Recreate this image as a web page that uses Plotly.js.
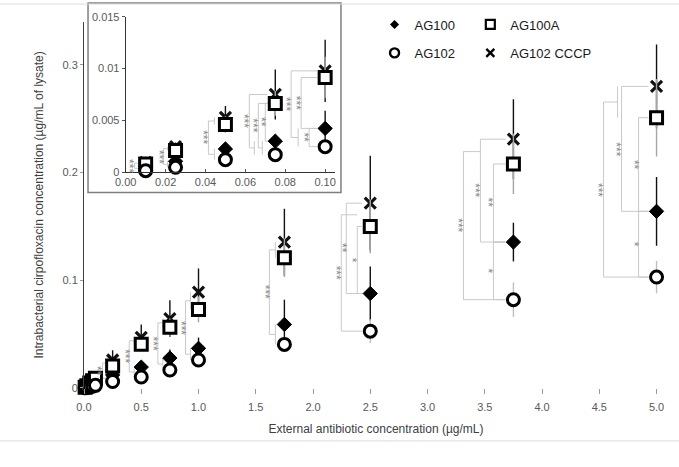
<!DOCTYPE html>
<html>
<head>
<meta charset="utf-8">
<script src="https://cdn.plot.ly/plotly-3.0.1.min.js"></script>
<style>html,body{margin:0;padding:0;background:#fff}#chart{width:679px;height:467px}</style>
</head>
<body>
<div id="chart"></div>
<script>
// ---------------- data ----------------
const concentrations = [0.01, 0.025, 0.05, 0.075, 0.1, 0.25, 0.5, 0.75, 1.0, 1.75, 2.5, 3.75, 5.0];
const seriesNames = ['AG100', 'AG100A', 'AG102', 'AG102 CCCP'];

const ag100      = [0.0006, 0.00106, 0.00225, 0.0030, 0.00423, 0.012, 0.0194, 0.0278, 0.0368, 0.059, 0.0877, 0.1355, 0.164];
const ag100Err   = [0.0001, 0.0003, 0.0006, 0.0005, 0.0017, 0.003, 0.006, 0.008, 0.010, 0.023, 0.025, 0.018, 0.032];
const ag100A     = [0.0008, 0.0021, 0.0046, 0.00664, 0.00913, 0.0204, 0.0407, 0.0565, 0.0729, 0.121, 0.150, 0.208, 0.251];
const ag100AErr  = [0.0002, 0.0004, 0.0008, 0.0012, 0.002, 0.004, 0.006, 0.008, 0.012, 0.018, 0.025, 0.028, 0.036];
const ag102      = [0.00016, 0.00048, 0.00122, 0.0017, 0.00247, 0.006, 0.0102, 0.0167, 0.026, 0.0405, 0.0528, 0.082, 0.103];
const ag102Err   = [0.0001, 0.0001, 0.0002, 0.0003, 0.0003, 0.002, 0.003, 0.004, 0.005, 0.006, 0.011, 0.016, 0.015];
const ag102cccp    = [0.00096, 0.00247, 0.0053, 0.0075, 0.00978, 0.026, 0.047, 0.0645, 0.089, 0.1355, 0.1716, 0.231, 0.280];
const ag102cccpErr = [0.0002, 0.0004, 0.0011, 0.0024, 0.003, 0.009, 0.012, 0.017, 0.022, 0.031, 0.044, 0.037, 0.039];

const xTitle = 'External antibiotic concentration (µg/mL)';
const yTitle = 'Intrabacterial cirpofloxacin concentration (µg/mL of lysate)';

// significance comparisons per concentration index (series keys: X=CCCP, S=AG100A, D=AG100, C=AG102)
const mainSig = {
  12: [{a:'X',b:'D',lab:'***'},{a:'S',b:'D',lab:'**'},{a:'D',b:'C',lab:'*'},{a:'XS',b:'C',lab:'***'}],
  11: [{a:'X',b:'D',lab:'***'},{a:'S',b:'D',lab:'**'},{a:'D',b:'C',lab:'*'},{a:'XS',b:'C',lab:'***'}],
  10: [{a:'XS',b:'C',lab:'***'},{a:'X',b:'D',lab:'**'},{a:'S',b:'D',lab:'*'}],
  9:  [{a:'XS',b:'DC',lab:'***'}],
  8:  [{a:'XS',b:'DC',lab:'***'}],
  7:  [{a:'XS',b:'DC',lab:'***'}],
  6:  [{a:'XS',b:'DC',lab:'***'}],
  5:  [{a:'XS',b:'DC',lab:'**'}]
};
const insetSig = {
  4: [{a:'X',b:'DC',lab:'***'},{a:'S',b:'D',lab:'***'},{a:'D',b:'C',lab:'**'}],
  3: [{a:'X',b:'DC',lab:'***'},{a:'S',b:'DC',lab:'***'},{a:'S',b:'D',lab:'**'}],
  2: [{a:'XS',b:'DC',lab:'***'}],
  1: [{a:'XS',b:'DC',lab:'***'}],
  0: [{a:'XS',b:'DC',lab:'***'}]
};
// ---------------- styling / placement (pixel offsets of brackets) ----------------
const mainPos = {
  12: [{dx:-35},{dx:-18},{dx:-18},{dx:-53,g:-39}],
  11: [{dx:-33},{dx:-20},{dx:-20},{dx:-50,ta:-33}],
  10: [{dx:-29,ta:-13},{dx:-24},{dx:-13}],
  9:  [{dx:-15,g:-9}],
  8:  [{dx:-13,g:-8}],
  7:  [{dx:-12,g:-7}],
  6:  [{dx:-12,g:-7}],
  5:  [{dx:-10,g:-6}]
};
const insetPos = {
  4: [{dx:-34,g:-27},{dx:-24},{dx:-16}],
  3: [{dx:-26,g:-21},{dx:-17,g:-13},{dx:-10,ta:-6,tb:-6}],
  2: [{dx:-17,g:-11}],
  1: [{dx:-12,g:-8}],
  0: [{dx:-11,g:-7}]
};

const V = {D: ag100, S: ag100A, C: ag102, X: ag102cccp};
function yOf(k, i) { return k.length === 1 ? V[k][i] : (V[k[0]][i] + V[k[1]][i]) / 2; }

const BR = '#c9c9c9', STAR = '#888888';
const shapes = [], annotations = [];
function seg(xref, yref, xa, x0, x1, y0, y1) {
  shapes.push({type:'line', xref:xref, yref:yref, xsizemode:'pixel', xanchor:xa,
    x0:x0, x1:x1, y0:y0, y1:y1, line:{color:BR, width:1}, layer:'below'});
}
function drawSig(sig, pos, xref, yref) {
  Object.keys(sig).forEach(function(k) {
    const i = +k, xa = concentrations[i];
    sig[k].forEach(function(p, j) {
      const q = pos[k][j];
      const y0 = yOf(p.a, i), y1 = yOf(p.b, i);
      seg(xref, yref, xa, q.dx, q.dx, y0, y1);
      [[p.a, y0, q.ta], [p.b, y1, q.tb]].forEach(function(e) {
        const key = e[0];
        if (key.length === 2 && q.g !== undefined) {
          seg(xref, yref, xa, q.dx, q.g, e[1], e[1]);
          seg(xref, yref, xa, q.g, q.g, V[key[0]][i], V[key[1]][i]);
        } else {
          seg(xref, yref, xa, q.dx, e[2] !== undefined ? e[2] : -8, e[1], e[1]);
        }
      });
      annotations.push({xref:xref, yref:yref, x:xa, xshift:q.dx - 5, y:(y0 + y1) / 2, opacity:0.99,
        text:p.lab, textangle:90, showarrow:false, font:{size:12, color:STAR}});
    });
  });
}
drawSig(mainSig, mainPos, 'x', 'y');
drawSig(insetSig, insetPos, 'x2', 'y2');

// inset frame and picture border lines
shapes.push({type:'rect', xref:'paper', yref:'paper', x0:0.0069, x1:0.440, y0:0.524, y1:1.032,
  line:{color:'#7f7f7f', width:1.5}, fillcolor:'rgba(0,0,0,0)', layer:'below'});
shapes.push({type:'line', xref:'paper', yref:'paper', x0:-0.144, x1:1.02, y0:1.0294, y1:1.0294, line:{color:'#dcdcdc', width:1}});
shapes.push({type:'line', xref:'paper', yref:'paper', x0:-0.144, x1:1.02, y0:-0.1417, y1:-0.1417, line:{color:'#dcdcdc', width:1}});

// ---------------- traces ----------------
const styles = {
  'AG102 CCCP': {y: ag102cccp, e: ag102cccpErr, ec: '#111', m: {symbol:'x-thin-open', size:11, color:'#111', line:{color:'#111', width:3.2}}},
  'AG100':      {y: ag100, e: ag100Err, ec: '#111', m: {symbol:'diamond', size:11, color:'#000', line:{color:'#000', width:1}}},
  'AG100A':     {y: ag100A, e: ag100AErr, ec: '#a6a6a6', m: {symbol:'square', size:12, color:'#fff', line:{color:'#000', width:3}}},
  'AG102':      {y: ag102, e: ag102Err, ec: '#bfbfbf', m: {symbol:'circle', size:12, color:'#fff', line:{color:'#000', width:3}}}
};
const drawOrder = ['AG102 CCCP', 'AG100', 'AG100A', 'AG102'];
const traces = [];
drawOrder.forEach(function(n) {
  const s = styles[n];
  traces.push({type:'scatter', mode:'markers', name:n, x:concentrations, y:s.y, showlegend:false,
    xaxis:'x', yaxis:'y', cliponaxis:false, marker:s.m,
    error_y:{type:'data', array:s.e, visible:true, color:s.ec, thickness:1.4, width:0}});
  const n5 = 5;
  traces.push({type:'scatter', mode:'markers', name:n, x:concentrations.slice(0, n5), y:s.y.slice(0, n5), showlegend:false,
    xaxis:'x2', yaxis:'y2', cliponaxis:false, marker:s.m,
    error_y:{type:'data', array:s.e.slice(0, n5), visible:true, color:s.ec, thickness:1.4, width:0}});
});
// legend entries (one small legend per entry so each can be placed like the reference)
const legMarkers = {
  'AG100': {symbol:'diamond', size:7, color:'#000'},
  'AG100A': {symbol:'square', size:9, color:'#fff', line:{color:'#000', width:2.2}},
  'AG102': {symbol:'circle', size:9, color:'#fff', line:{color:'#000', width:2.4}},
  'AG102 CCCP': {symbol:'x-thin-open', size:8, color:'#000', line:{color:'#000', width:2.4}}
};
const legIds = ['legend', 'legend2', 'legend3', 'legend4'];
seriesNames.forEach(function(n, k) {
  traces.push({type:'scatter', mode:'markers', name:n, x:[null], y:[null], marker:legMarkers[n],
    legend: legIds[k], showlegend:true, hoverinfo:'skip'});
});

const tickFont = {family:'"Liberation Sans", Arial, sans-serif', size:11, color:'#595959'};
const titleFont = {family:'"Liberation Sans", Arial, sans-serif', size:12, color:'#404040'};
function leg(x, y) {
  return {x:x, y:y, orientation:'h', xanchor:'left', yanchor:'top', bgcolor:'rgba(0,0,0,0)',
    font:{family:'"Liberation Sans", Arial, sans-serif', size:13, color:'#1a1a1a'},
    itemclick:false, itemdoubleclick:false};
}

const layout = {
  width:679, height:467,
  margin:{l:84, r:11, t:14, b:79},
  paper_bgcolor:'#fff', plot_bgcolor:'rgba(0,0,0,0)',
  font:{family:'"Liberation Sans", Arial, sans-serif'},
  showlegend:true,
  legend: leg(0.4975, 1.012),
  legend2: leg(0.6615, 1.012),
  legend3: leg(0.4975, 0.936),
  legend4: leg(0.6615, 0.936),
  xaxis:{domain:[0,1], range:[0,5.1], tick0:0, dtick:0.5, tickformat:'.1f', showline:false, showgrid:false, zeroline:false,
    ticks:'outside', ticklen:5, tickcolor:'#9a9a9a', tickfont:tickFont, ticklabelstandoff:4,
    title:{text:xTitle, font:titleFont, standoff:12}},
  yaxis:{domain:[0,0.9818], range:[0,0.34], tick0:0, dtick:0.1, showline:true, linecolor:'#404040', linewidth:1,
    showgrid:false, zeroline:false, ticks:'outside', ticklen:3, tickcolor:'#9a9a9a', tickfont:tickFont,
    title:{text:yTitle, font:titleFont, standoff:16}},
  xaxis2:{anchor:'y2', domain:[0.0714,0.430], range:[0,0.105], tick0:0, dtick:0.02, tickformat:'.2f',
    showline:true, linecolor:'#333', linewidth:1, showgrid:false, zeroline:false,
    ticks:'inside', ticklen:3, tickcolor:'#555', tickfont:tickFont},
  yaxis2:{anchor:'x2', domain:[0.5783,0.9955], range:[0,0.015], tick0:0, dtick:0.005,
    showline:true, linecolor:'#333', linewidth:1, showgrid:false, zeroline:false,
    ticks:'outside', ticklen:3, tickcolor:'#555', tickfont:tickFont},
  shapes:shapes,
  annotations:annotations
};

Plotly.newPlot('chart', traces, layout, {staticPlot:true, displayModeBar:false});
</script>
</body>
</html>
